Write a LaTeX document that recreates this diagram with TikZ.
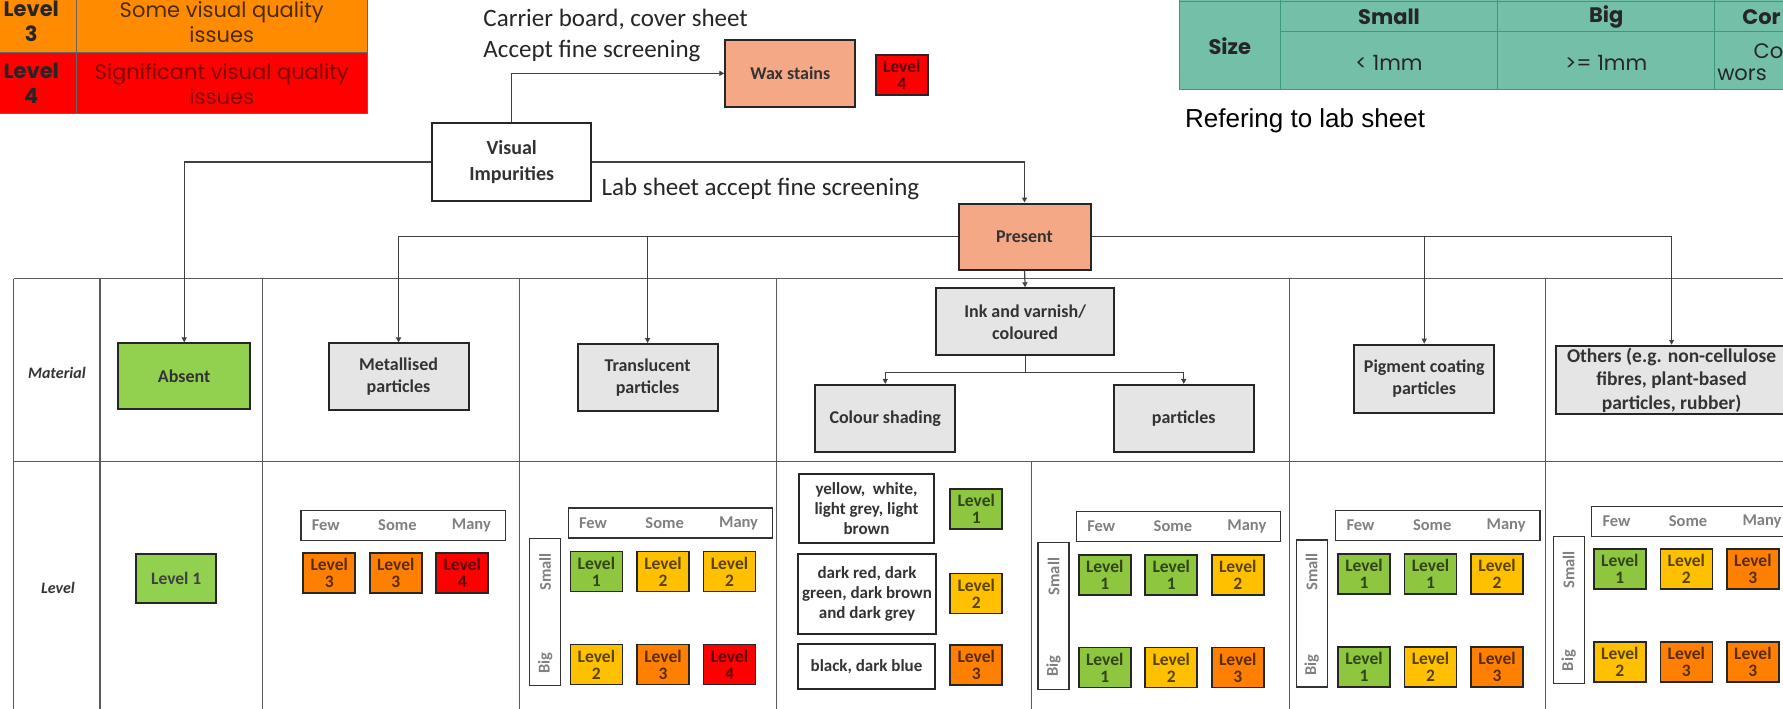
\documentclass[tikz,border=0pt]{standalone}
\usepackage{fontspec}
\setmainfont{Carlito}
\newfontfamily\tabfont{Poppins}
\newfontfamily\arialfont{Liberation Sans}
\usepackage{tikz}
\usepackage{xcolor}
\usetikzlibrary{positioning, fit, arrows.meta, calc}

\definecolor{salmon}{HTML}{F5A886}
\definecolor{boxgray}{HTML}{E5E5E5}
\definecolor{absentgreen}{HTML}{92D050}
\definecolor{lvc1}{HTML}{8EC640}
\definecolor{lvc2}{HTML}{FFC000}
\definecolor{lvc3}{HTML}{FF7F00}
\definecolor{lvc4}{HTML}{FF0000}
\definecolor{legorange}{HTML}{FF8C00}
\definecolor{tealfill}{HTML}{74BFA8}
\definecolor{tealline}{HTML}{3A9A7E}
\definecolor{gridline}{HTML}{5A5A5A}

\begin{document}
\begin{tikzpicture}[x=1.137pt, y=-1.137pt, >={Triangle[length=5pt,width=5pt]}, % Arrow tip style
    box/.style={draw=black!85, line width=2pt, align=center, inner sep=1pt, text=black!80, font=\fontsize{18}{22}\selectfont\bfseries},
    matbox/.style={box, fill=boxgray, minimum width=140pt, minimum height=67pt},
    lvlbox/.style={draw=black!85, line width=1.6pt, minimum width=52pt, minimum height=40pt, inner sep=0pt, align=center, font=\fontsize{17.5}{17}\selectfont\bfseries, fill=lvc#1, text=lvc#1!35!black},
    descbox/.style={box, fill=white, font=\fontsize{17}{20}\selectfont\bfseries},
    hdr/.style={draw=black!80, line width=1.2pt, minimum width=204pt, minimum height=30pt, inner sep=0pt},
    hdrtext/.style={text=black!50, font=\fontsize{16.5}{17}\selectfont\bfseries},
    side/.style={draw=black!80, line width=1.2pt, minimum width=31pt, minimum height=147pt, inner sep=0pt},
    sidetext/.style={hdrtext, rotate=90},
    rowlabel/.style={text=black!80, font=\fontsize{16}{18}\selectfont\bfseries\itshape},
    conn/.style={draw=black!75, line width=1.2pt},
    legtext/.style={align=center, font=\tabfont\fontsize{21}{25}\selectfont},
    tabtext/.style={font=\tabfont\fontsize{21}{25}\selectfont, text=black!85}
]
    % Fix the frame to the page
    \useasboundingbox (0,0) rectangle (1568,623);
    \clip (0,0) rectangle (1568,623);

    % Legend table, top left
    \fill[legorange] (-12,-12) rectangle (323,46);
    \fill[lvc4] (-12,46) rectangle (323,100);
    \draw[black!60, line width=1.2pt] (-12,46) -- (323,46) (67,-12) -- (67,100) (323,-12) -- (323,100) (-12,100) -- (323,100);
    \node[legtext, text=black!85, font=\tabfont\bfseries\fontsize{21}{25}\selectfont] (legA) at (27.5,19) {Level\\3};
    \node[legtext, text=legorange!30!black] (legAtxt) at (195,19) {Some visual quality\\issues};
    \node[legtext, text=black!85, font=\tabfont\bfseries\fontsize{21}{25}\selectfont] (legB) at (27.5,73.5) {Level\\4};
    \node[legtext, text=red!50!black] (legBtxt) at (195,73.5) {Significant visual quality\\issues};

    % Size table, top right
    \fill[tealfill] (1037,-20) rectangle (1600,79);
    \draw[tealline, line width=1.2pt] (1037,1) -- (1600,1) (1126,28) -- (1600,28) (1037,79) -- (1600,79)
        (1037,-20) -- (1037,79) (1126,-20) -- (1126,79) (1317,-20) -- (1317,79) (1508,-20) -- (1508,79);
    \node[tabtext, font=\tabfont\bfseries\fontsize{21}{25}\selectfont] (size) at (1081.5,41) {Size};
    \node[tabtext, font=\tabfont\bfseries\fontsize{21}{25}\selectfont] (small) at (1221.5,15) {Small};
    \node[tabtext, font=\tabfont\bfseries\fontsize{21}{25}\selectfont] (big) at (1412.5,15) {Big};
    \node[tabtext, font=\tabfont\bfseries\fontsize{21}{25}\selectfont, anchor=west, inner sep=0pt] (cor) at (1532,15) {Cor};
    \node[tabtext] (lessmm) at (1221.5,55) {< 1mm};
    \node[tabtext] (moremm) at (1412.5,55) {>= 1mm};
    \node[tabtext, anchor=west, inner sep=0pt] (corB) at (1542,45) {Cor};
    \node[tabtext, anchor=west, inner sep=0pt] (wors) at (1510,66) {wors};
    \node[anchor=west, inner sep=0pt, font=\arialfont\fontsize{26}{30}\selectfont] (refer) at (1042,106) {Refering to lab sheet};

    % Notes on the routes
    \node[anchor=west, align=left, inner sep=0pt, text=black!85, font=\fontsize{25}{31}\selectfont] (carrier) at (425,31.5) {Carrier board, cover sheet\\Accept fine screening};
    \node[anchor=west, inner sep=0pt, text=black!85, font=\fontsize{25}{30}\selectfont] (labsheet) at (529,166) {Lab sheet accept fine screening};

    % Main table grid
    \draw[gridline, line width=1.4pt] (12,245) -- (1600,245) (12,406) -- (1600,406);
    \foreach \gx in {12,88,231,457,683,1134,1359}
        \draw[gridline, line width=1.4pt] (\gx,245) -- (\gx,640);
    \draw[gridline, line width=1.4pt] (907,406) -- (907,640);
    \node[rowlabel] (material) at (50,328) {Material};
    \node[rowlabel] (levelrow) at (51,517) {Level};

    % Decision boxes
    \node[box, fill=white, minimum width=159pt, minimum height=78pt, font=\fontsize{20}{26}\selectfont\bfseries] (visual) at (450,142.5) {Visual\\Impurities};
    \node[box, fill=salmon, minimum width=130pt, minimum height=67pt] (wax) at (695,64.5) {Wax stains};
    \node[lvlbox=4] (waxlevel) at (793,66) {Level\\4};
    \node[box, fill=salmon, minimum width=132pt, minimum height=66pt] (present) at (901,208) {Present};

    % Material boxes
    \node[box, fill=absentgreen, minimum width=132pt, minimum height=66pt] (absent) at (162,331) {Absent};
    \node[matbox] (metal) at (350.5,331.5) {Metallised\\particles};
    \node[matbox] (transl) at (569.5,332) {Translucent\\particles};
    \node[matbox, minimum width=178pt] (ink) at (901.5,283) {Ink and varnish/\\coloured};
    \node[matbox] (colour) at (778.5,368) {Colour shading};
    \node[matbox] (partic) at (1041,368) {particles};
    \node[matbox, minimum height=68pt] (pigment) at (1252.5,333) {Pigment coating\\particles};
    \node[matbox, minimum width=232pt, minimum height=68pt, font=\fontsize{19.5}{23.5}\selectfont\bfseries] (others) at (1470,334) {Others (e.g. non-cellulose\\fibres, plant-based\\particles, rubber)};

    % Connectors
    \draw[conn,->] (visual.north) |- (wax.west);
    \draw[conn,->] (visual.west) -| (absent.north);
    \draw[conn,->] (visual.east) -| (present.north);
    \draw[conn,->] (present.west) -| (metal.north);
    \draw[conn,->] (present.west) -| (transl.north);
    \draw[conn,->] (present.east) -| (pigment.north);
    \draw[conn,->] (present.east) -| (others.north);
    \draw[conn,->] (present.south) -- (ink.north);
    \draw[conn,->] (ink.south) -- ++(0,14) -| (colour.north);
    \draw[conn,->] (ink.south) -- ++(0,14) -| (partic.north);

    % Level for absent
    \node[lvlbox=1, fill=absentgreen, text=black!75, minimum width=80pt, minimum height=49pt] (absentlevel) at (155,508.5) {Level 1};

    % Metallised levels
    \node[hdr] (mhead) at (354.5,462) {};
    \foreach \w/\dx in {Few/21.5, Some/84.5, Many/149.5}
        \node[hdrtext] (m\w) at (265+\dx,462) {\w};
    \foreach \n/\dx/\lv in {a/24.5/3, b/83/3, c/141.5/4}
        \node[lvlbox=\lv] (m\n) at (265+\dx,504) {Level\\\lv};

    % Translucent levels
    \node[hdr] (thead) at (589.5,460) {};
    \foreach \w/\dx in {Few/21.5, Some/84.5, Many/149.5}
        \node[hdrtext] (t\w) at (500+\dx,460) {\w};
    \node[side] (tside) at (479.5,538.5) {};
    \node[sidetext] (tsmall) at (479.5,503) {Small};
    \node[sidetext] (tbig) at (479.5,583) {Big};
    \foreach \n/\dx/\y/\lv in {a/24.5/502.5/1, b/83/502.5/2, c/141.5/502.5/2, d/24.5/584.5/2, e/83/584.5/3, f/141.5/584.5/4}
        \node[lvlbox=\lv] (t\n) at (500+\dx,\y) {Level\\\lv};

    % Colour shading levels
    \node[descbox, minimum width=134pt, minimum height=69pt] (shadeA) at (762,447.5) {yellow,~ white,\\light grey, light\\brown};
    \node[descbox, minimum width=138pt, minimum height=80pt] (shadeB) at (762.5,522) {dark red, dark\\green, dark brown\\and dark grey};
    \node[descbox, minimum width=136pt, minimum height=45pt] (shadeC) at (762,586) {black, dark blue};
    \node[lvlbox=1] (shadeAlevel) at (858.5,447.5) {Level\\1};
    \node[lvlbox=2] (shadeBlevel) at (858.5,522) {Level\\2};
    \node[lvlbox=3] (shadeClevel) at (858.5,585) {Level\\3};

    % Ink particles levels
    \node[hdr] (phead) at (1036.5,463) {};
    \foreach \w/\dx in {Few/21.5, Some/84.5, Many/149.5}
        \node[hdrtext] (p\w) at (947+\dx,463) {\w};
    \node[side] (pside) at (926.5,542) {};
    \node[sidetext] (psmall) at (926.5,507) {Small};
    \node[sidetext] (pbig) at (926.5,586) {Big};
    \foreach \n/\dx/\y/\lv in {a/24.5/505.5/1, b/83/505.5/1, c/141.5/505.5/2, d/24.5/587/1, e/83/587/2, f/141.5/587/3}
        \node[lvlbox=\lv] (p\n) at (947+\dx,\y) {Level\\\lv};

    % Pigment coating levels
    \node[hdr] (ghead) at (1264.5,462) {};
    \foreach \w/\dx in {Few/21.5, Some/84.5, Many/149.5}
        \node[hdrtext] (g\w) at (1175+\dx,462) {\w};
    \node[side] (gside) at (1153.5,539.5) {};
    \node[sidetext] (gsmall) at (1153.5,503) {Small};
    \node[sidetext] (gbig) at (1153.5,585) {Big};
    \foreach \n/\dx/\y/\lv in {a/24.5/505/1, b/83/505/1, c/141.5/505/2, d/24.5/586.5/1, e/83/586.5/2, f/141.5/586.5/3}
        \node[lvlbox=\lv] (g\n) at (1175+\dx,\y) {Level\\\lv};

    % Others levels
    \node[hdr] (ohead) at (1489.5,458.5) {};
    \foreach \w/\dx in {Few/21.5, Some/84.5, Many/149.5}
        \node[hdrtext] (o\w) at (1400+\dx,458.5) {\w};
    \node[side] (oside) at (1379.5,536.5) {};
    \node[sidetext] (osmall) at (1379.5,501) {Small};
    \node[sidetext] (obig) at (1379.5,581) {Big};
    \foreach \n/\dx/\y/\lv in {a/24.5/500.5/1, b/83/500.5/2, c/141.5/500.5/3, d/24.5/582/2, e/83/582/3, f/141.5/582/3}
        \node[lvlbox=\lv] (o\n) at (1400+\dx,\y) {Level\\\lv};

\end{tikzpicture}
\end{document}
